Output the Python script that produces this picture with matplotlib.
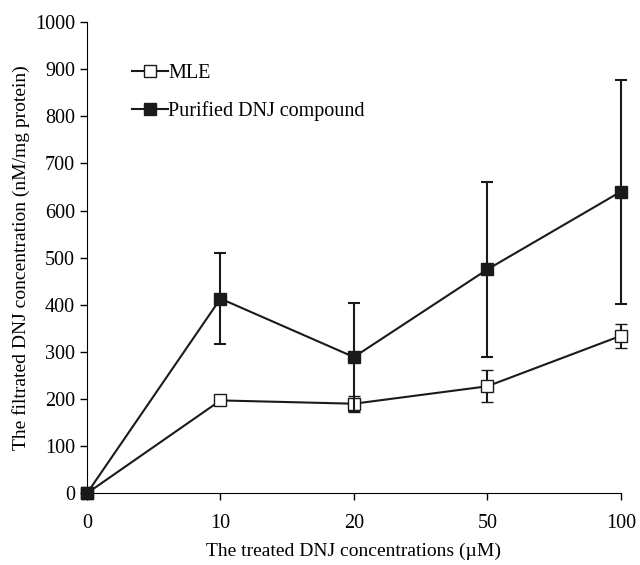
import numpy as np
import matplotlib.pyplot as plt
from matplotlib.lines import Line2D

plt.rcParams['font.family'] = ['Liberation Serif', 'DejaVu Serif']

doses = ['0', '10', '20', '50', '100']
mle = [0, 197, 190, 227, 334]
mle_err = [0, 0, 17, 34, 26]
dnj = [0, 413, 289, 475, 640]
dnj_err = [0, 96, 114, 185, 238]

x = np.arange(len(doses))
dark = '#1a1a1a'

fig = plt.figure(figsize=(6.4, 5.65), dpi=100)
ax = fig.add_axes([0.136, 0.127, 0.834, 0.834])

ax.errorbar(x, mle, yerr=mle_err, color=dark, lw=1.5, marker='s', ms=9,
            mfc='white', mec=dark, mew=1, capsize=4, capthick=1.5, elinewidth=1.5,
            clip_on=False, zorder=3)
ax.errorbar(x, dnj, yerr=dnj_err, color=dark, lw=1.5, marker='s', ms=9,
            mfc=dark, mec=dark, capsize=4, capthick=1.5, elinewidth=1.5,
            clip_on=False, zorder=4)

ax.set_xlim(0, 4)
ax.set_ylim(0, 1000)
ax.set_xticks(x)
ax.set_xticklabels(doses)
ax.set_yticks(np.arange(0, 1001, 100))
ax.tick_params(labelsize=14.5, length=5, width=1)
ax.tick_params(axis='x', pad=10)
ax.spines['top'].set_visible(False)
ax.spines['right'].set_visible(False)

ax.set_xlabel('The treated DNJ concentrations (\u00b5M)', fontsize=14, labelpad=7)
ax.set_ylabel('The filtrated DNJ concentration (nM/mg protein)', fontsize=14, labelpad=4)

handles = [Line2D([], [], color=dark, lw=1.5, marker='s', ms=9, mfc='white', mec=dark, mew=1),
           Line2D([], [], color=dark, lw=1.5, marker='s', ms=9, mfc=dark, mec=dark)]
ax.legend(handles, ['MLE', 'Purified DNJ compound'], loc='upper left',
          bbox_to_anchor=(0.05, 0.95), frameon=False, fontsize=14.5,
          handlelength=1.8, handletextpad=0.0, labelspacing=0.9)

fig.savefig('out.png', dpi=100)
